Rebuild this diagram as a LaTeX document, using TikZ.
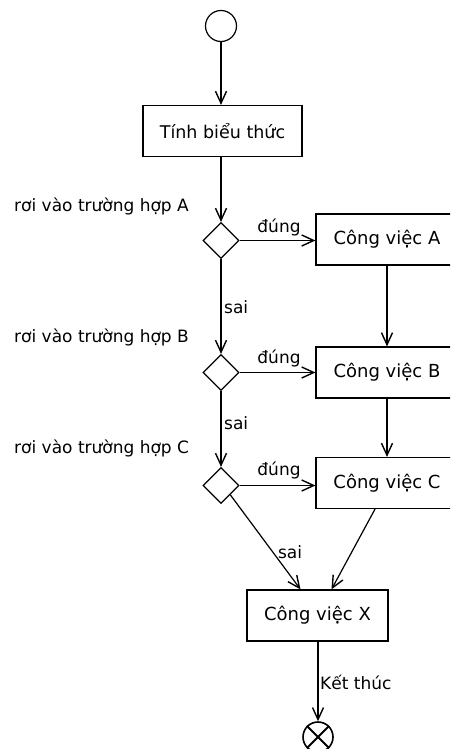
\documentclass[tikz,border=0pt]{standalone}
\usepackage{fontspec}
\setmainfont{DejaVu Sans}
\usetikzlibrary{shapes.geometric,arrows.meta}
\tikzset{
  box/.style={draw,line width=1.2pt,minimum height=51pt,inner sep=0pt,font=\fontsize{18}{20}\selectfont},
  dec/.style={draw,shape=diamond,line width=1.2pt,minimum width=36pt,minimum height=36pt,inner sep=0pt,aspect=1},
  flow/.style={line width=1.2pt,-{Straight Barb[length=12pt,width=11pt,line width=1.4pt]}},
  lbl/.style={inner sep=0pt,font=\fontsize{17}{19}\selectfont},
  ev/.style={draw,circle,line width=1.2pt,minimum size=31pt,inner sep=0pt}
}
\begin{document}
\begin{tikzpicture}[x=1pt,y=-1pt]
\useasboundingbox (0,0) rectangle (450,749);
\clip (0,0) rectangle (450,749);
\node[ev] (start) at (221,26) {};
\node[box,minimum width=159pt,font=\fontsize{17.5}{20}\selectfont] (T) at (222.5,131) {Tính biểu thức};
\node[dec] (dA) at (221,240.5) {};
\node[dec] (dB) at (221,372.5) {};
\node[dec] (dC) at (221,485.5) {};
\node[box,minimum width=142pt] (A) at (387,239.5) {Công việc A};
\node[box,minimum width=142pt] (B) at (387,372.5) {Công việc B};
\node[box,minimum width=142pt] (C) at (387,483) {Công việc C};
\node[box,minimum width=141pt] (X) at (317.5,615.5) {Công việc X};
\node[ev,minimum size=30pt,line width=1.6pt] (end) at (318,737) {};
\draw[line width=1.8pt] (end.north west) -- (end.south east) (end.north east) -- (end.south west);
\node[lbl,anchor=west] (lA) at (14,206) {rơi vào trường hợp A};
\node[lbl,anchor=west] (lB) at (14,337) {rơi vào trường hợp B};
\node[lbl,anchor=west] (lC) at (14,448) {rơi vào trường hợp C};
\node[lbl] (dgA) at (279,227) {đúng};
\node[lbl] (dgB) at (279,358) {đúng};
\node[lbl] (dgC) at (279,470) {đúng};
\node[lbl,anchor=west] (sA) at (224,307) {sai};
\node[lbl,anchor=west] (sB) at (224,423) {sai};
\node[lbl] (sC) at (290,552) {sai};
\node[lbl,anchor=west] (kt) at (320,682) {Kết thúc};
\draw[flow] (start.south) -- (start.south |- T.north);
\draw[flow] (dA.north |- T.south) -- (dA.north);
\draw[flow] (dA.east) -- (dA.east -| A.west);
\draw[flow] (dB.east) -- (dB.east -| B.west);
\draw[flow] (dC.east) -- (dC.east -| C.west);
\draw[flow] (dA.south) -- (dB.north);
\draw[flow] (dB.south) -- (dC.north);
\draw[flow] (A.south) -- (B.north);
\draw[flow] (B.south) -- (C.north);
\draw[flow] (dC.south east) -- ([xshift=-17pt]X.north);
\draw[flow] ([xshift=-12pt]C.south) -- ([xshift=14pt]X.north);
\draw[flow] (X.south -| end.north) -- (end.north);
\end{tikzpicture}
\end{document}
